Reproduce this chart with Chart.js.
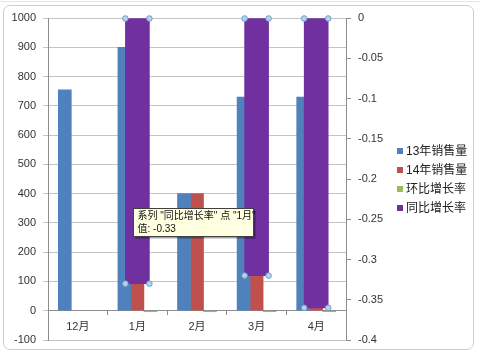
<!DOCTYPE html>
<html><head><meta charset="utf-8">
<script src="https://cdn.jsdelivr.net/npm/chart.js@4"></script>
<style>
html,body{margin:0;padding:0;background:#fff;}
#wrap{position:relative;width:480px;height:358px;overflow:hidden;background:#fff;}
#frame{position:absolute;left:3px;top:5px;width:471px;height:345px;border:1px solid #b9d7de;border-radius:7px;box-sizing:border-box;}
#topline{position:absolute;left:0;top:1px;width:480px;height:1px;background:#dfe9ec;}
canvas{position:absolute;left:0;top:0;}
#legend{position:absolute;left:397px;top:143px;font:12px "Liberation Sans","Noto Sans CJK SC",sans-serif;color:#222;}
#legend div{height:19px;line-height:17px;white-space:nowrap;}
#legend span{display:inline-block;width:6px;height:6px;margin-right:3px;vertical-align:middle;position:relative;top:-1px;}
</style></head>
<body>
<div id="wrap">
<div id="topline"></div>
<div id="frame"></div>
<canvas id="c" width="480" height="358"></canvas>
<div id="legend"></div>
</div>
<script>
const categories = ['12月', '1月', '2月', '3月', '4月'];
const seriesNames = ['13年销售量', '14年销售量', '环比增长率', '同比增长率'];
const sales13 = [755, 900, 400, 730, 730];
const sales14 = [null, 600, 400, 500, 470];
const momRate = [null, -0.1, -0.33, -0.05, -0.06];
const yoyRate = [null, -0.33, null, -0.32, -0.36];
const leftTicks = [-100, 0, 100, 200, 300, 400, 500, 600, 700, 800, 900, 1000];
const rightTicks = [-0.4, -0.35, -0.3, -0.25, -0.2, -0.15, -0.1, -0.05, 0];
const tooltipLines = ['系列 "同比增长率" 点 "1月"', '值: -0.33'];
const colors = ['#4F81BD', '#C0504D', '#9BBB59', '#7030A0'];

const FONT = '"Liberation Sans","Noto Sans CJK SC",sans-serif';
const GRID = '#c4c4c4';
const AXIS = '#8c8c8c';

const lg = document.getElementById('legend');
seriesNames.forEach((n, i) => {
  const d = document.createElement('div');
  d.innerHTML = '<span style="background:' + colors[i] + '"></span>' + n;
  lg.appendChild(d);
});

const extrasPlugin = {
  id: 'extras',
  afterDatasetsDraw(chart) {
    const ctx = chart.ctx;
    const meta = chart.getDatasetMeta(3);
    ctx.save();
    meta.data.forEach((el, i) => {
      if (yoyRate[i] === null || yoyRate[i] === 0) return;
      const p = el.getProps(['x', 'y', 'base', 'width'], true);
      const pts = [[p.x - p.width / 2, p.base], [p.x + p.width / 2, p.base], [p.x - p.width / 2, p.y], [p.x + p.width / 2, p.y]];
      pts.forEach(([x, y]) => {
        ctx.beginPath();
        ctx.arc(x, y, 2.8, 0, Math.PI * 2);
        ctx.fillStyle = '#b6d3ea';
        ctx.fill();
        ctx.lineWidth = 1;
        ctx.strokeStyle = '#6f9cc6';
        ctx.stroke();
      });
    });
    const el = meta.data[1];
    const p = el.getProps(['x', 'y', 'base', 'width'], true);
    const bx = Math.round(p.x - p.width / 2 + 8) + 0.5, by = 208.5, bw = 120, bh = 28;
    ctx.fillStyle = 'rgba(0,0,0,0.35)';
    ctx.fillRect(bx + 2, by + 2, bw, bh);
    ctx.fillStyle = '#ffffe1';
    ctx.fillRect(bx, by, bw, bh);
    ctx.strokeStyle = '#404040';
    ctx.lineWidth = 1;
    ctx.strokeRect(bx, by, bw, bh);
    ctx.fillStyle = '#111';
    ctx.font = '10px ' + FONT;
    ctx.textBaseline = 'middle';
    ctx.textAlign = 'left';
    ctx.fillText(tooltipLines[0], bx + 4, by + 8);
    ctx.fillText(tooltipLines[1], bx + 4, by + 21);
    ctx.restore();
  }
};

new Chart(document.getElementById('c'), {
  type: 'bar',
  data: {
    labels: categories,
    datasets: [
      { label: seriesNames[0], data: sales13, backgroundColor: colors[0], yAxisID: 'y', barThickness: 13, order: 1 },
      { label: seriesNames[1], data: sales14, backgroundColor: colors[1], yAxisID: 'y', barThickness: 13, order: 1 },
      { label: seriesNames[2], data: momRate, backgroundColor: colors[2], yAxisID: 'y', barThickness: 13, minBarLength: 1, order: 1 },
      { label: seriesNames[3], data: yoyRate, backgroundColor: colors[3], yAxisID: 'y2', grouped: false, barThickness: 24, order: 0 }
    ]
  },
  options: {
    responsive: false,
    animation: false,
    devicePixelRatio: 1,
    layout: { padding: { top: 18, bottom: 18, left: 0, right: 0 } },
    plugins: { legend: { display: false }, tooltip: { enabled: false } },
    scales: {
      x: {
        type: 'category',
        position: { y: 0 },
        offset: true,
        grid: { offset: true, drawOnChartArea: false, drawTicks: true, tickLength: 4, color: AXIS },
        border: { color: AXIS },
        ticks: { color: '#333', font: { family: FONT, size: 11 }, padding: 6 }
      },
      y: {
        position: 'left',
        min: -100, max: 1000,
        afterBuildTicks: (s) => { s.ticks = leftTicks.map(v => ({ value: v })); },
        afterFit: (s) => { s.width = 48; },
        grid: { color: GRID, tickLength: 5, drawTicks: true },
        border: { color: AXIS },
        ticks: { color: '#333', font: { family: FONT, size: 11 }, padding: 7, callback: v => String(v) }
      },
      y2: {
        position: 'right',
        min: -0.4, max: 0,
        afterBuildTicks: (s) => { s.ticks = rightTicks.map(v => ({ value: v })); },
        afterFit: (s) => { s.width = 134; },
        grid: { drawOnChartArea: false, drawTicks: true, tickLength: 5, color: AXIS },
        border: { color: AXIS },
        ticks: { color: '#333', font: { family: FONT, size: 11 }, padding: 7, callback: v => String(+Number(v).toFixed(2)) }
      }
    }
  },
  plugins: [extrasPlugin]
});
</script>
</body></html>
